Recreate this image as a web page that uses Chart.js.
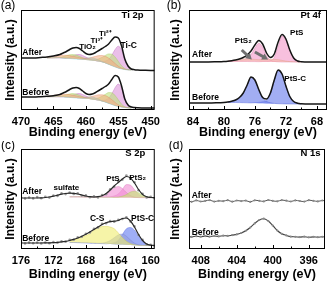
<!DOCTYPE html>
<html>
<head>
<meta charset="utf-8">
<script src="https://cdn.jsdelivr.net/npm/chart.js@4.4.1/dist/chart.umd.min.js"></script>
<style>
  body { margin: 0; background: #fff; width: 329px; height: 283px; position: relative; overflow: hidden; }
  .panel { position: absolute; }
</style>
</head>
<body>
<div class="panel" style="left:0;top:0"><canvas id="ca" width="165" height="141"></canvas></div>
<div class="panel" style="left:165px;top:0"><canvas id="cb" width="164" height="141"></canvas></div>
<div class="panel" style="left:0;top:141px"><canvas id="cc" width="165" height="142"></canvas></div>
<div class="panel" style="left:165px;top:141px"><canvas id="cd" width="164" height="142"></canvas></div>
<script>
// ---- (a) Ti 2p ----
const tiE = [470, 469, 468, 467, 466, 465, 464, 463.5, 463, 462.5, 462, 461.5, 461, 460.5, 460, 459.5, 459, 458.5, 458, 457.5,
  457, 456.5, 456, 455.5, 455, 454.5, 454, 453.5, 453, 452.5, 452, 451, 450, 449.4];
const tiAfter = [52, 52, 52, 52.5, 53, 54, 55.5, 57, 58.5, 60.5, 62, 62.5, 61.5, 59, 56.5, 55.5, 56, 57.5, 59.5, 61.5,
  63.5, 66, 70, 73, 72, 64, 51, 44, 41, 40.3, 40, 39.7, 39.5, 39.5];
const tiBefore = [13, 13, 13, 13.3, 13.7, 14.3, 15.5, 17, 18.5, 20.5, 22, 22.5, 21.5, 19, 16.5, 15.5, 16, 17.5, 19.5, 21.5,
  23.5, 26, 30.5, 34.5, 33, 24, 11, 5, 3, 2.4, 2.2, 2, 2, 2];
// fitted components (height above background)
const tiCompE = [466, 465.5, 465, 464.5, 464, 463.5, 463, 462.5, 462, 461.5, 461, 460.5, 460, 459.5, 459, 458.5, 458, 457.5, 457, 456.5,
  456, 455.5, 455, 454.5, 454, 453.5, 453];
const tiAfterBg = [52, 52, 52, 52, 51.9, 51.8, 51.6, 51.4, 51.2, 51, 50.7, 50.4, 50.1, 49.8, 49.5, 49, 48.4, 47.7, 46.8, 45.6,
  44.3, 43, 41.8, 41, 40.4, 40.1, 40];
const tiAfterC = [0, 0, 0, 0, 0, 0.2, 0.6, 1.5, 3, 4.3, 4.8, 4.2, 2.8, 1.4, 0.6, 0.3, 0.4, 1, 2.2, 5, 10.5, 17.5, 22, 19, 9.5, 3.5, 0.9];
const tiAfter2 = [0, 0, 0.1, 0.3, 0.8, 1.6, 2.8, 3.8, 4.2, 3.9, 3, 1.9, 1, 0.6, 0.7, 1.4, 2.8, 5, 7.8, 10.5, 11.5, 10, 6.8, 3.2, 1, 0.3, 0];
const tiAfter3 = [0.6, 1, 1.5, 2.1, 2.6, 3, 3.1, 3, 2.6, 2.1, 1.6, 1.4, 1.6, 2.2, 3.3, 4.7, 6, 6.8, 6.9, 6.3, 5.1, 3.5, 2, 0.9, 0.3, 0, 0];
const tiAfterO2 = [0.4, 0.6, 0.7, 0.7, 0.6, 0.4, 0.2, 0.1, 0, 0, 0, 0.6, 1.5, 2.3, 2.6, 2.3, 1.5, 0.7, 0.3, 0.1, 0, 0, 0, 0, 0, 0, 0];
const tiBeforeBg = [13.2, 13.2, 13.2, 13.1, 13, 12.9, 12.7, 12.5, 12.3, 12.1, 11.8, 11.5, 11.2, 10.9, 10.5, 10, 9.4, 8.6, 7.7, 6.6,
  5.4, 4.3, 3.4, 2.8, 2.4, 2.1, 2];
const tiBeforeC = [0, 0, 0, 0, 0, 0.2, 0.5, 1.3, 2.7, 4, 4.6, 4.1, 2.8, 1.4, 0.6, 0.3, 0.4, 1, 2.3, 5.2, 10.8, 18, 22.5, 19, 8.5, 2.8, 0.6];
const tiBefore2 = [0, 0, 0.1, 0.3, 0.7, 1.5, 2.6, 3.6, 4.1, 3.8, 3, 1.9, 1, 0.6, 0.7, 1.4, 2.9, 5.2, 8, 10.8, 11.8, 10.2, 6.8, 3, 0.9, 0.3, 0];
const tiBefore3 = [0.5, 0.9, 1.4, 2, 2.5, 2.9, 3, 2.9, 2.5, 2, 1.5, 1.3, 1.5, 2.1, 3.2, 4.6, 5.8, 6.6, 6.7, 6.1, 4.9, 3.3, 1.8, 0.8, 0.3, 0, 0];
const tiBeforeO2 = [0.4, 0.5, 0.6, 0.6, 0.5, 0.3, 0.2, 0.1, 0, 0, 0, 0.5, 1.3, 2.1, 2.4, 2.1, 1.4, 0.6, 0.2, 0.1, 0, 0, 0, 0, 0, 0, 0];

// ---- (b) Pt 4f ----
const ptE = [84.5, 83, 82, 81, 80, 79.5, 79, 78.5, 78, 77.5, 77, 76.5, 76, 75.5, 75, 74.5, 74, 73.5, 73, 72.5,
  72, 71.5, 71, 70.5, 70, 69, 68, 66.7];
const ptAfter = [48, 48, 48, 48.2, 48.5, 48.8, 49.3, 50, 51, 52.5, 55, 59, 65, 69.5, 66, 57, 52.5, 56, 68, 75.5,
  71, 60, 52, 49, 48.3, 48, 48, 48];
const ptBefore = [7, 7, 7, 7.2, 7.6, 8, 8.8, 10, 12.5, 17, 25, 33, 30, 20.5, 12.5, 11, 17, 30, 40, 36,
  24, 13.5, 8.5, 6.8, 6.3, 6, 6, 6];
const ptCompE = [79.5, 79, 78.5, 78, 77.5, 77, 76.5, 76, 75.5, 75, 74.5, 74, 73.5, 73, 72.5, 72, 71.5, 71, 70.5, 70];
const ptAfterBg = [48.7, 48.6, 48.6, 48.5, 48.5, 48.5, 48.4, 48.4, 48.3, 48.3, 48.2, 48.2, 48.1, 48.1, 48, 48, 48, 48, 48, 48];
const ptsPeak1 = [0, 0.2, 0.5, 1, 1.8, 3.2, 7, 13.5, 18.5, 14.5, 6, 1.8, 0.5, 0.1, 0, 0, 0, 0, 0, 0];
const ptsPeak2 = [0, 0, 0, 0, 0, 0, 0, 0, 0, 0.2, 0.5, 1.2, 4.5, 15.5, 26, 22, 11.5, 3.8, 1, 0.3];
const pts2Peak = [0.3, 0.8, 1.4, 2.1, 2.6, 2.7, 2.5, 2.2, 2, 2.2, 2.5, 2.5, 2.5, 2.2, 1.6, 0.9, 0.4, 0.2, 0, 0];
const ptBeforeBg = [7.6, 7.5, 7.5, 7.4, 7.3, 7.2, 7.1, 7, 6.8, 6.7, 6.6, 6.5, 6.4, 6.3, 6.2, 6.1, 6, 6, 6, 6];
const ptscPeak1 = [0.4, 1, 2.2, 4.8, 9.5, 17.5, 25.5, 22.5, 13, 5.5, 2, 0.7, 0.2, 0, 0, 0, 0, 0, 0, 0];
const ptscPeak2 = [0, 0, 0, 0, 0, 0, 0, 0.3, 0.8, 1.5, 3, 9.5, 23, 33.5, 30, 18, 7.5, 2.4, 0.7, 0.2];

// ---- (c) S 2p ----
const sE = [176, 175.5, 175, 174.5, 174, 173.5, 173, 172.5, 172, 171.5, 171, 170.5, 170, 169.5, 169, 168.5, 168, 167.5, 167, 166.5,
  166, 165.5, 165, 164.5, 164, 163.5, 163, 162.5, 162, 161.5, 161, 160.5, 160, 159.5];
const sAfterFit = [51, 51, 51, 51, 51, 51.2, 51.5, 52, 52.8, 53.8, 54.8, 55.5, 55.8, 55.6, 55, 54, 53, 52.3, 52, 52.3,
  53.3, 55.5, 59, 63, 66.5, 70, 72.5, 71, 66, 59.5, 54.5, 52.2, 51.5, 51.3];
const sAfterRaw = [51.8, 50.4, 51.5, 50.6, 51.9, 50.8, 52.2, 51.4, 53.5, 53.1, 55.6, 54.9, 56.5, 55.1, 55.8, 53.4, 53.6, 51.7, 52.6, 51.5,
  53.9, 54.8, 59.8, 62.3, 67.4, 69.2, 73.4, 70.2, 66.8, 58.7, 55.3, 51.6, 52.2, 50.7];
const sBeforeFit = [6, 6, 6, 6, 6, 6, 6.1, 6.2, 6.4, 6.7, 7.1, 7.7, 8.5, 9.6, 11, 12.7, 14.7, 17, 19.5, 22,
  24.5, 26.3, 27.3, 27.8, 28.5, 30.5, 31, 28, 22, 14.5, 8.5, 5, 3.8, 3.5];
const sBeforeRaw = [6.6, 5.5, 6.4, 5.7, 6.5, 5.6, 6.5, 5.8, 6.9, 6.3, 7.6, 7.3, 9.1, 9.2, 11.6, 12.3, 15.3, 16.6, 20.1, 21.6,
  25.1, 25.8, 27.9, 27.3, 29.1, 30, 31.8, 27.4, 22.6, 14, 9.1, 4.6, 4.3, 3.1];
const sCompE = [170, 169.5, 169, 168.5, 168, 167.5, 167, 166.5, 166, 165.5, 165, 164.5, 164, 163.5, 163, 162.5, 162, 161.5, 161, 160.5, 160];
const sAfterBg = [52.2, 52.2, 52.2, 52.1, 52, 52, 51.9, 51.9, 51.8, 51.8, 51.7, 51.6, 51.5, 51.5, 51.4, 51.4, 51.3, 51.3, 51.3, 51.3, 51.3];
const sPtsA = [0, 0, 0, 0, 0, 0, 0, 0.3, 1, 2.8, 6, 9.5, 11, 9, 5, 2, 0.6, 0.1, 0, 0, 0];
const sPtsB = [0, 0, 0, 0, 0, 0, 0, 0, 0, 0.1, 0.5, 1.5, 3.5, 8, 13, 12.5, 8, 3.5, 1, 0.2, 0];
const sPts2 = [0, 0, 0, 0, 0, 0, 0, 0, 0, 0, 0, 0.1, 0.4, 1.3, 3, 5.5, 6.5, 5, 2.5, 0.9, 0.2];
const sBeforeBg = [6.5, 6.5, 6.4, 6.3, 6.2, 6, 5.8, 5.6, 5.4, 5.2, 5, 4.8, 4.6, 4.4, 4.2, 4, 3.8, 3.6, 3.5, 3.5, 3.5];
const sCS = [1.8, 2.8, 4, 5.5, 7.3, 9.3, 13, 15.5, 17, 17.5, 17, 15.5, 11.5, 7, 3.5, 1.4, 0.5, 0.1, 0, 0, 0];
const sPtscA = [0, 0, 0, 0, 0, 0, 0, 0, 0.5, 1.5, 3.5, 6.5, 9.5, 10.5, 8.5, 5, 2, 0.6, 0.1, 0, 0];
const sPtscB = [0, 0, 0, 0, 0, 0, 0, 0, 0, 0, 0.5, 1.5, 4, 10, 16, 17.5, 15, 9.5, 4.5, 1.5, 0.3];

// ---- (d) N 1s ----
const nE = [409.5, 409, 408.5, 408, 407.5, 407, 406.5, 406, 405.5, 405, 404.5, 404, 403.5, 403, 402.5, 402, 401.5, 401, 400.5, 400,
  399.5, 399, 398.5, 398, 397.5, 397, 396.5, 396, 395.5, 395, 394.5, 394];
const nAfter = [48.3, 47.2, 48.6, 47.5, 48.1, 48.9, 47.4, 48.2, 47.8, 48.8, 47.3, 48.5, 47.9, 48.4, 47.1, 48.7, 48.2, 47.6, 49, 48.1,
  47.7, 48.9, 48.3, 47.5, 48.6, 48, 47.4, 48.8, 48.2, 47.6, 48.5, 48.1];
const nBefore = [12.6, 12.1, 12.8, 12.3, 12.9, 12.4, 13, 12.6, 13.3, 13.1, 13.9, 14.6, 16, 18.2, 21.5, 25.6, 29, 30.3, 28, 23.5,
  18.5, 15.2, 13.6, 12.4, 12.2, 11.9, 12.3, 11.7, 12.1, 11.8, 12.2, 11.9];

Chart.defaults.font.family = "'Liberation Sans', Arial, sans-serif";
Chart.defaults.color = '#000';

function pts(xs, ys) {
    return xs.map((x, i) => ({x: x, y: ys[i]}));
}
// component sitting on its background line
function onBg(xs, bg, ys) {
    return xs.map((x, i) => ({x: x, y: bg[i] + ys[i]}));
}
function line(data, color, width) {
    return {data: data, borderColor: color, borderWidth: width, pointRadius: 0, fill: false,
        cubicInterpolationMode: 'monotone', order: 0};
}
function dots(data, color) {
    return {data: data, showLine: false, pointRadius: 1.3, pointBorderWidth: 0,
        pointBackgroundColor: color, order: 1};
}
function base(data) {
    return {data: data, borderColor: 'rgba(0,0,0,0)', borderWidth: 0, pointRadius: 0, fill: false, order: 4};
}
function comp(data, color, edge, bgIndex) {
    return {data: data, borderColor: edge, borderWidth: 0.6, backgroundColor: color, pointRadius: 0,
        fill: bgIndex, cubicInterpolationMode: 'monotone', order: 2};
}

// frame, inner ticks, annotations
const deco = {
    id: 'deco',
    afterDraw(chart, args, o) {
        const ctx = chart.ctx, a = chart.chartArea, x = chart.scales.x, y = chart.scales.y;
        ctx.save();
        (o.arrows || []).forEach(ar => {
            const x1 = x.getPixelForValue(ar.x1), y1 = y.getPixelForValue(ar.y1);
            const x2 = x.getPixelForValue(ar.x2), y2 = y.getPixelForValue(ar.y2);
            const ang = Math.atan2(y2 - y1, x2 - x1), c = Math.cos(ang), s = Math.sin(ang);
            ctx.strokeStyle = '#707070';
            ctx.fillStyle = '#707070';
            ctx.lineWidth = 3;
            ctx.beginPath();
            ctx.moveTo(x1, y1);
            ctx.lineTo(x2 - 4 * c, y2 - 4 * s);
            ctx.stroke();
            ctx.beginPath();
            ctx.moveTo(x2, y2);
            ctx.lineTo(x2 - 6 * c + 3.5 * s, y2 - 6 * s - 3.5 * c);
            ctx.lineTo(x2 - 6 * c - 3.5 * s, y2 - 6 * s + 3.5 * c);
            ctx.closePath();
            ctx.fill();
        });
        ctx.strokeStyle = '#000';
        ctx.lineWidth = 1;
        ctx.strokeRect(a.left + 0.5, a.top + 0.5, a.right - a.left - 1, a.bottom - a.top - 1);
        ctx.beginPath();
        for (let v = Math.ceil(x.min / o.minor) * o.minor; v <= x.max; v += o.minor) {
            const px = Math.round(x.getPixelForValue(v)) + 0.5;
            const major = Math.abs(v / o.major - Math.round(v / o.major)) < 1e-6;
            ctx.moveTo(px, a.bottom);
            ctx.lineTo(px, a.bottom - (major ? 4 : 2.5));
        }
        ctx.stroke();
        ctx.fillStyle = '#000';
        ctx.textBaseline = 'middle';
        o.labels.forEach(l => {
            ctx.font = 'bold ' + (l.size || 8) + "px 'Liberation Sans', Arial, sans-serif";
            ctx.textAlign = l.align || 'center';
            ctx.fillText(l.t, x.getPixelForValue(l.x), y.getPixelForValue(l.y));
        });
        ctx.font = "12px 'Liberation Sans', Arial, sans-serif";
        ctx.textAlign = 'center';
        ctx.fillText(o.letter.t, o.letter.x, o.letter.y);
        ctx.restore();
    }
};

function makeChart(id, cfg) {
    return new Chart(document.getElementById(id), {
        type: 'line',
        data: {datasets: cfg.datasets},
        options: {
            responsive: false,
            animation: false,
            events: [],
            layout: {padding: cfg.padding},
            plugins: {legend: {display: false}, tooltip: {enabled: false}, deco: cfg.deco},
            scales: {
                x: {
                    type: 'linear', reverse: true, min: cfg.xMin, max: cfg.xMax,
                    afterFit: s => { s.height = cfg.xHeight; },
                    grid: {display: false, drawTicks: false},
                    border: {display: false},
                    ticks: {stepSize: cfg.deco.major, padding: 5, maxRotation: 0, autoSkip: false, includeBounds: false,
                        font: {size: 11, weight: 'bold'}},
                    title: {display: true, text: 'Binding energy (eV)', padding: {top: 0, bottom: 1},
                        font: {size: 12.5, weight: 'bold'}}
                },
                y: {
                    min: 0, max: 100,
                    afterFit: s => { s.width = cfg.yWidth; },
                    grid: {display: false, drawTicks: false},
                    border: {display: false},
                    ticks: {display: false},
                    title: {display: true, text: 'Intensity (a.u.)', padding: {top: 3, bottom: 0},
                        font: {size: 12, weight: 'bold'}}
                }
            }
        },
        plugins: [deco]
    });
}

const orange = 'rgba(246,172,130,0.55)', green = 'rgba(190,226,125,0.6)',
    purple = 'rgba(214,128,212,0.5)', cyan = 'rgba(120,222,242,0.6)';

makeChart('ca', {
    padding: {left: 0, right: 2, top: 10, bottom: 0}, yWidth: 21, xHeight: 31, xMin: 449.4, xMax: 470,
    datasets: [
        base(pts(tiCompE, tiAfterBg)),                                   // 0
        base(pts(tiCompE, tiBeforeBg)),                                  // 1
        comp(onBg(tiCompE, tiAfterBg, tiAfter3), orange, 'rgba(220,130,90,0.6)', 0),
        comp(onBg(tiCompE, tiAfterBg, tiAfterO2), cyan, 'rgba(70,190,220,0.6)', 0),
        comp(onBg(tiCompE, tiAfterBg, tiAfter2), green, 'rgba(150,200,80,0.6)', 0),
        comp(onBg(tiCompE, tiAfterBg, tiAfterC), purple, 'rgba(180,90,180,0.6)', 0),
        comp(onBg(tiCompE, tiBeforeBg, tiBefore3), orange, 'rgba(220,130,90,0.6)', 1),
        comp(onBg(tiCompE, tiBeforeBg, tiBeforeO2), cyan, 'rgba(70,190,220,0.6)', 1),
        comp(onBg(tiCompE, tiBeforeBg, tiBefore2), green, 'rgba(150,200,80,0.6)', 1),
        comp(onBg(tiCompE, tiBeforeBg, tiBeforeC), purple, 'rgba(180,90,180,0.6)', 1),
        line(pts(tiE, tiAfter), '#151515', 1.5),
        line(pts(tiE, tiBefore), '#151515', 1.5)
    ],
    deco: {
        major: 5, minor: 2.5, letter: {t: '(a)', x: 8, y: 6},
        labels: [
            {t: 'Ti 2p', x: 452.8, y: 95, size: 9.5},
            {t: 'TiO₂', x: 459.75, y: 63},
            {t: 'Ti³⁺', x: 458.3, y: 69},
            {t: 'Ti²⁺', x: 457.0, y: 76},
            {t: 'Ti-C', x: 453.4, y: 64, size: 8.5},
            {t: 'After', x: 469.8, y: 57, align: 'left', size: 8.5},
            {t: 'Before', x: 469.8, y: 17, align: 'left', size: 8.5}
        ]
    }
});

const pink = 'rgba(242,150,200,0.6)', peach = 'rgba(246,190,165,0.55)', blue = 'rgba(105,125,236,0.62)';

makeChart('cb', {
    padding: {left: 0, right: 2, top: 10, bottom: 0}, yWidth: 24, xHeight: 31, xMin: 66.7, xMax: 84.5,
    datasets: [
        base(pts(ptCompE, ptAfterBg)),                                   // 0
        base(pts(ptCompE, ptBeforeBg)),                                  // 1
        comp(onBg(ptCompE, ptAfterBg, pts2Peak), peach, 'rgba(220,150,120,0.6)', 0),
        comp(onBg(ptCompE, ptAfterBg, ptsPeak1), pink, 'rgba(215,100,160,0.6)', 0),
        comp(onBg(ptCompE, ptAfterBg, ptsPeak2), pink, 'rgba(215,100,160,0.6)', 0),
        comp(onBg(ptCompE, ptBeforeBg, ptscPeak1), blue, 'rgba(70,90,210,0.7)', 1),
        comp(onBg(ptCompE, ptBeforeBg, ptscPeak2), blue, 'rgba(70,90,210,0.7)', 1),
        line(pts(ptE, ptAfter), '#151515', 1.5),
        line(pts(ptE, ptBefore), '#151515', 1.5)
    ],
    deco: {
        major: 4, minor: 2, letter: {t: '(b)', x: 9, y: 6},
        arrows: [
            {x1: 77.7, y1: 60, x2: 76.4, y2: 50.5},
            {x1: 76.0, y1: 58, x2: 74.3, y2: 50.5}
        ],
        labels: [
            {t: 'Pt 4f', x: 68.8, y: 95, size: 9.5},
            {t: 'PtS₂', x: 77.5, y: 69},
            {t: 'PtS', x: 70.6, y: 77},
            {t: 'PtS-C', x: 70.8, y: 31},
            {t: 'After', x: 84.1, y: 55, align: 'left', size: 8.5},
            {t: 'Before', x: 84.1, y: 12, align: 'left', size: 8.5}
        ]
    }
});

const sPink = 'rgba(242,140,212,0.6)', sGreen = 'rgba(200,226,120,0.65)', yellow = 'rgba(240,236,110,0.6)',
    lav = 'rgba(150,160,222,0.6)', sBlue = 'rgba(100,125,240,0.62)';

makeChart('cc', {
    padding: {left: 0, right: 2, top: 8, bottom: 0}, yWidth: 21, xHeight: 34, xMin: 159.5, xMax: 176,
    datasets: [
        base(pts(sCompE, sAfterBg)),                                     // 0
        base(pts(sCompE, sBeforeBg)),                                    // 1
        comp(onBg(sCompE, sAfterBg, sPts2), sGreen, 'rgba(160,200,80,0.6)', 0),
        comp(onBg(sCompE, sAfterBg, sPtsA), sPink, 'rgba(215,100,180,0.6)', 0),
        comp(onBg(sCompE, sAfterBg, sPtsB), sPink, 'rgba(215,100,180,0.6)', 0),
        comp(onBg(sCompE, sBeforeBg, sCS), yellow, 'rgba(210,200,60,0.6)', 1),
        comp(onBg(sCompE, sBeforeBg, sPtscA), lav, 'rgba(110,120,200,0.6)', 1),
        comp(onBg(sCompE, sBeforeBg, sPtscB), sBlue, 'rgba(70,90,220,0.6)', 1),
        dots(pts(sE, sAfterRaw), '#9a9a9a'),
        dots(pts(sE, sBeforeRaw), '#9a9a9a'),
        line(pts(sE, sAfterFit), '#2a2a2a', 1.2),
        line(pts(sE, sBeforeFit), '#2a2a2a', 1.2)
    ],
    deco: {
        major: 4, minor: 2, letter: {t: '(c)', x: 8, y: 5},
        labels: [
            {t: 'S 2p', x: 161.9, y: 96, size: 9.5},
            {t: 'sulfate', x: 170.4, y: 61},
            {t: 'PtS', x: 164.65, y: 70},
            {t: 'PtS₂', x: 161.6, y: 71},
            {t: 'C-S', x: 166.6, y: 30, size: 8.5},
            {t: 'PtS-C', x: 161.0, y: 30, size: 8.5},
            {t: 'After', x: 175.85, y: 57, align: 'left', size: 8.5},
            {t: 'Before', x: 175.85, y: 10, align: 'left', size: 8.5}
        ]
    }
});

makeChart('cd', {
    padding: {left: 0, right: 2, top: 8, bottom: 0}, yWidth: 24, xHeight: 34, xMin: 394.2, xMax: 409.3,
    datasets: [
        Object.assign(line(pts(nE, nAfter), '#555', 1), {pointRadius: 1.1, pointBorderWidth: 0, pointBackgroundColor: '#8a8a8a', cubicInterpolationMode: 'default', tension: 0.3}),
        Object.assign(line(pts(nE, nBefore), '#444', 1.1), {pointRadius: 1.1, pointBorderWidth: 0, pointBackgroundColor: '#8a8a8a'})
    ],
    deco: {
        major: 4, minor: 2, letter: {t: '(d)', x: 11, y: 5},
        labels: [
            {t: 'N 1s', x: 395.8, y: 96, size: 9.5},
            {t: 'After', x: 409, y: 53, align: 'left', size: 8.5},
            {t: 'Before', x: 409, y: 16, align: 'left', size: 8.5}
        ]
    }
});
</script>
</body>
</html>
